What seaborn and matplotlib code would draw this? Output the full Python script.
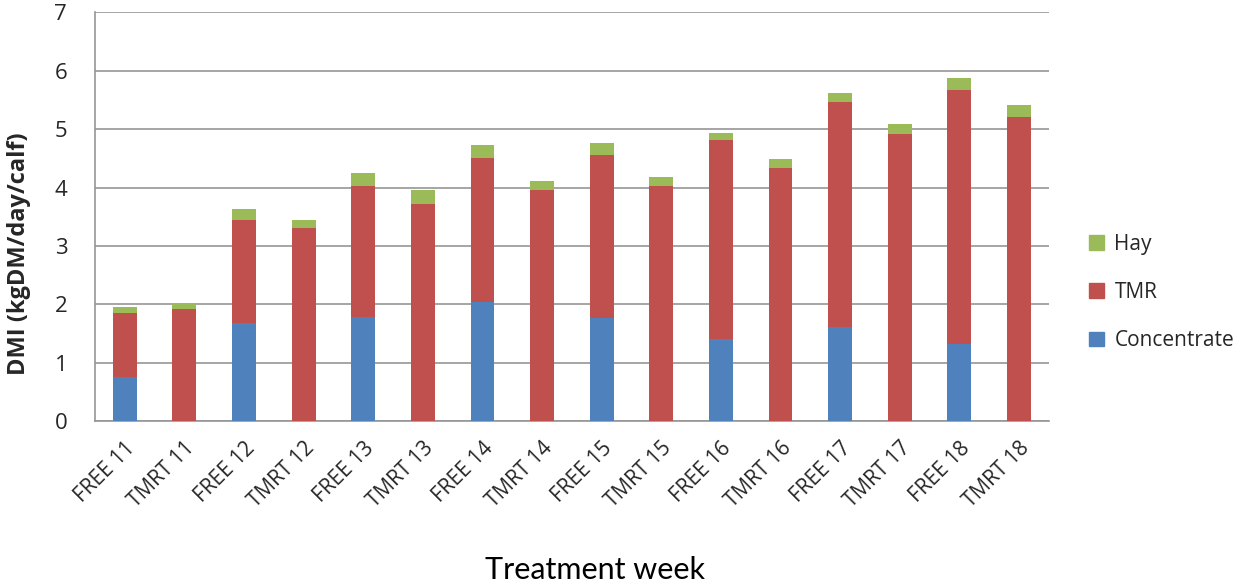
import matplotlib
matplotlib.use("Agg")
import matplotlib.pyplot as plt
import numpy as np
import pandas as pd
import seaborn as sns
from matplotlib.patches import Patch

sns.set_style("white")
plt.rcParams['font.family'] = ['Open Sans', 'DejaVu Sans']

weeks = ["FREE 11", "TMRT 11", "FREE 12", "TMRT 12", "FREE 13", "TMRT 13", "FREE 14", "TMRT 14",
         "FREE 15", "TMRT 15", "FREE 16", "TMRT 16", "FREE 17", "TMRT 17", "FREE 18", "TMRT 18"]
concentrate = [0.75, 0, 1.68, 0, 1.78, 0, 2.04, 0, 1.77, 0, 1.40, 0, 1.62, 0, 1.33, 0]
tmr = [1.10, 1.92, 1.77, 3.30, 2.25, 3.72, 2.47, 3.96, 2.78, 4.02, 3.42, 4.33, 3.85, 4.91, 4.34, 5.20]
hay = [0.11, 0.09, 0.19, 0.15, 0.22, 0.23, 0.21, 0.16, 0.21, 0.16, 0.12, 0.16, 0.14, 0.17, 0.21, 0.22]

df = pd.DataFrame(dict(week=weeks, Concentrate=concentrate, TMR=tmr, Hay=hay))
df["conc_top"] = df["Concentrate"]
df["tmr_top"] = df["conc_top"] + df["TMR"]
df["hay_top"] = df["tmr_top"] + df["Hay"]

colours = {"Concentrate": "#4F81BD", "TMR": "#C0504D", "Hay": "#9BBB59"}

fig = plt.figure(figsize=(12.45, 5.85), dpi=100)
ax = fig.add_axes([0.0763, 0.280, 0.766, 0.699])

for col, name in [("hay_top", "Hay"), ("tmr_top", "TMR"), ("conc_top", "Concentrate")]:
    sns.barplot(data=df, x="week", y=col, color=colours[name], width=0.4,
                saturation=1, ax=ax, zorder=3, linewidth=0)

ax.set_ylim(0, 7)
ax.set_xlim(-0.5, len(weeks) - 0.5)
ax.set_yticks(range(8))
ax.yaxis.grid(True, color="#969696", linewidth=1.2, zorder=0)
ax.set_axisbelow(True)
for s in ["top", "right"]:
    ax.spines[s].set_visible(False)
ax.spines["left"].set_color("#969696")
ax.spines["bottom"].set_color("#969696")
ax.spines["left"].set_linewidth(1.2)
ax.spines["bottom"].set_linewidth(1.2)

ax.tick_params(axis="y", length=6, color="#969696", labelsize=16, pad=14)
ax.set_xticks(np.arange(len(weeks)))
ax.set_xticklabels(weeks, rotation=45, ha="right", rotation_mode="anchor", fontsize=15)
ax.tick_params(axis="x", length=0, pad=12)
ax.set_xticks(np.arange(len(weeks) + 1) - 0.5, minor=True)
ax.tick_params(axis="x", which="minor", length=6, color="#969696")

ax.set_ylabel("DMI (kgDM/day/calf)", fontsize=17, fontweight="bold")
ax.yaxis.set_label_coords(-0.067, 0.41)
ax.set_xlabel("")
fig.text(0.478, 0.002, "Treatment week", ha="center", va="bottom", fontsize=22,
         family=["Lato", "DejaVu Sans"], color="black")

handles = [Patch(color=colours[n], label=n) for n in ["Hay", "TMR", "Concentrate"]]
fig.legend(handles=handles, loc="center left", bbox_to_anchor=(0.86, 0.50), frameon=False,
           fontsize=15, handlelength=0.7, handleheight=0.7, labelspacing=1.3, handletextpad=0.5)

fig.savefig("out.png", dpi=100)
